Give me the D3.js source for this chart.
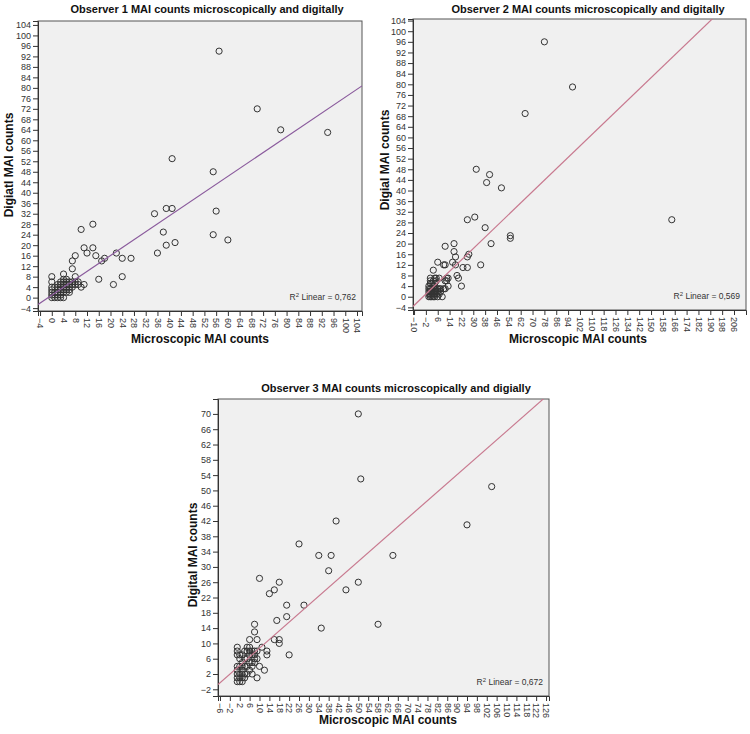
<!DOCTYPE html>
<html><head><meta charset="utf-8">
<script src="https://cdn.jsdelivr.net/npm/d3@7"></script>
<style>
body{margin:0;background:#fff}
text{font-family:"Liberation Sans",Arial,sans-serif}
</style>
</head><body>
<svg id="chart" width="750" height="734"></svg>
<script>
// ---------- DATA ----------
const obs1X = [57,70,78,94,41,55,56,55,60,35,39,41,38,39,42,36,22,24,27,24,21,16,14,10,11,14,12,15,17,18,8,7,7,8,10,11,4,0,0,0,9,7,
  0,0,0,0,1,1,1,2,2,2,2,2,2,3,3,3,3,3,4,4,4,4,4,4,4,5,5,5,5,5,6,6,6,6,7,7,8,3,5,6,1,3,8,9];
const obs1Y = [94,72,64,63,53,48,33,24,22,32,34,34,25,20,21,17,17,15,15,8,5,7,28,26,19,19,17,16,14,15,16,14,11,8,4,5,9,8,6,4,6,4,
  0,1,2,3,0,1,2,0,1,2,3,4,5,1,2,3,4,5,0,2,3,4,5,6,7,2,3,4,5,6,3,4,5,6,5,6,6,6,7,2,4,0,5,5];

const obs2X = [78,97,65,32,41,39,49,26,31,38,42,55,55,164,35,27,26,23,26,22,20,19,17,17,18,18,16,11,10,11,6,3,13,12,13,11,9,
  0,0,0,0,0,1,1,1,1,1,1,1,2,2,2,2,2,3,3,3,3,3,4,4,4,4,4,4,5,5,5,5,6,6,6,7,7,8,8,10,11,12,7,5];
const obs2Y = [96,79,69,48,46,43,41,29,30,26,20,23,22,29,12,16,15,11,11,4,7,8,20,17,15,12,13,19,12,12,13,10,7,7,4,6,0,
  0,1,2,3,4,0,1,2,3,5,6,7,0,1,2,3,5,0,1,2,4,6,0,1,2,3,5,7,1,2,3,6,0,2,3,1,3,2,3,3,3,6,7,7];

const obs3X = [50,51,41,94,104,26,34,39,64,38,45,50,58,35,28,21,21,10,18,16,14,17,16,18,18,22,13,13,12,11,9,8,8,6,9,10,9,9,7,
  1,1,1,1,1,1,1,1,2,2,2,2,2,2,3,3,3,3,3,3,4,4,4,4,5,5,5,5,5,6,6,6,6,6,7,7,7,7,8,8,8,8,4,3];
const obs3Y = [70,53,42,41,51,36,33,33,33,29,24,26,15,14,20,20,17,27,26,24,23,16,11,11,10,7,8,7,3,9,11,15,13,11,1,4,6,8,2,
  0,1,2,3,4,7,8,9,0,1,2,4,6,7,0,1,2,3,4,5,1,2,4,8,2,4,6,8,9,3,5,7,8,9,4,5,7,8,5,6,7,8,6,7];

// fit lines: [intercept, slope]
const fit1 = [0.95, 0.755];
const fit2 = [2.07, 0.536];
const fit3 = [3.1, 0.567];
const r2Values = ["0,762", "0,569", "0,672"];

const titles = ["Observer 1 MAI counts microscopically and digitally",
                "Observer 2 MAI counts microscopically and digitally",
                "Observer 3 MAI counts microscopically and digially"];
const yTitles = ["Digiatl MAI counts", "Digial MAI counts", "Digital MAI counts"];
const xTitle = "Microscopic MAI counts";

const xTicks1 = d3.range(-4, 105, 4);
const yTicks1 = d3.range(-4, 105, 4);
const xTicks2 = d3.range(-10, 207, 8);
const yTicks2 = d3.range(-4, 105, 4);
const xTicks3 = d3.range(-6, 127, 4);
const yTicks3 = d3.range(-2, 71, 4);

// ---------- LAYOUT ----------
const panels = [
  {xs: obs1X, ys: obs1Y, fit: fit1, r2: r2Values[0], title: titles[0], yTitle: yTitles[0],
   xTicks: xTicks1, yTicks: yTicks1, xDom: [-4.7, 105.7], yDom: [-5.1, 105.5],
   L: 38, R: 362, T: 21, B: 311, titleX: 207, titleY: 13, yTitleX: 13, yTitleY: 165, xTitleX: 200, xTitleY: 343,
   lineColor: "#8a5a9c"},
  {xs: obs2X, ys: obs2Y, fit: fit2, r2: r2Values[1], title: titles[1], yTitle: yTitles[1],
   xTicks: xTicks2, yTicks: yTicks2, xDom: [-10.7, 214.1], yDom: [-5.0, 104.6],
   L: 413, R: 746, T: 19, B: 310, titleX: 588, titleY: 13, yTitleX: 389, yTitleY: 160, xTitleX: 578, xTitleY: 343,
   lineColor: "#c8798f"},
  {xs: obs3X, ys: obs3Y, fit: fit3, r2: r2Values[2], title: titles[2], yTitle: yTitles[2],
   xTicks: xTicks3, yTicks: yTicks3, xDom: [-6.8, 127.2], yDom: [-3.75, 73.9],
   L: 218, R: 549, T: 399, B: 696, titleX: 396, titleY: 392, yTitleX: 197, yTitleY: 555, xTitleX: 388, xTitleY: 724,
   lineColor: "#c8798f"}
];

const svg = d3.select("#chart");

panels.forEach((p, i) => {
  const x = d3.scaleLinear().domain(p.xDom).range([p.L, p.R]);
  const y = d3.scaleLinear().domain(p.yDom).range([p.B, p.T]);
  const g = svg.append("g");

  svg.append("clipPath").attr("id", "clip" + i)
    .append("rect").attr("x", p.L).attr("y", p.T).attr("width", p.R - p.L).attr("height", p.B - p.T);

  g.append("rect").attr("x", p.L).attr("y", p.T).attr("width", p.R - p.L).attr("height", p.B - p.T)
    .attr("fill", "#f0f0f0").attr("stroke", "#555").attr("stroke-width", 1);

  const yAxis = d3.axisLeft(y).tickValues(p.yTicks).tickSize(5).tickPadding(2).tickFormat(d3.format("d"));
  const xAxis = d3.axisBottom(x).tickValues(p.xTicks).tickSize(5).tickPadding(2).tickFormat(d3.format("d"));
  const ya = g.append("g").attr("transform", `translate(${p.L},0)`).call(yAxis);
  const xa = g.append("g").attr("transform", `translate(0,${p.B})`).call(xAxis);
  [ya, xa].forEach(a => {
    a.select(".domain").attr("stroke", "#333");
    a.selectAll(".tick line").attr("stroke", "#333");
    a.selectAll(".tick text").attr("fill", "#333").style("font-size", "9px")
      .style("font-family", '"Liberation Sans", Arial, sans-serif');
  });
  xa.selectAll(".tick text")
    .attr("transform", "rotate(90)")
    .attr("x", 7).attr("y", 0).attr("dy", "0.35em")
    .style("text-anchor", "start");

  g.append("g").attr("clip-path", `url(#clip${i})`)
    .selectAll("circle").data(p.xs.map((v, k) => [v, p.ys[k]])).join("circle")
    .attr("cx", d => x(d[0])).attr("cy", d => y(d[1])).attr("r", 3.1)
    .attr("fill", "none").attr("stroke", "#333").attr("stroke-width", 1);

  const fx = p.xDom;
  g.append("line").attr("clip-path", `url(#clip${i})`)
    .attr("x1", x(fx[0])).attr("y1", y(p.fit[0] + p.fit[1] * fx[0]))
    .attr("x2", x(fx[1])).attr("y2", y(p.fit[0] + p.fit[1] * fx[1]))
    .attr("stroke", p.lineColor).attr("stroke-width", 1.2);

  const r2 = g.append("text").attr("x", p.R - 6).attr("y", p.B - 11)
    .attr("text-anchor", "end").style("font-size", "8.5px").attr("fill", "#333");
  r2.append("tspan").text("R");
  r2.append("tspan").attr("dy", -3).style("font-size", "6px").text("2");
  r2.append("tspan").attr("dy", 3).text(" Linear = " + p.r2);

  g.append("text").attr("x", p.titleX).attr("y", p.titleY).attr("text-anchor", "middle")
    .style("font-size", "11px").style("font-weight", "bold").attr("fill", "#111").text(p.title);
  g.append("text").attr("transform", `translate(${p.yTitleX},${p.yTitleY}) rotate(-90)`)
    .attr("text-anchor", "middle").style("font-size", "12px").style("font-weight", "bold")
    .attr("fill", "#111").text(p.yTitle);
  g.append("text").attr("x", p.xTitleX).attr("y", p.xTitleY).attr("text-anchor", "middle")
    .style("font-size", "12px").style("font-weight", "bold").attr("fill", "#111").text(xTitle);
});
</script>
</body></html>
